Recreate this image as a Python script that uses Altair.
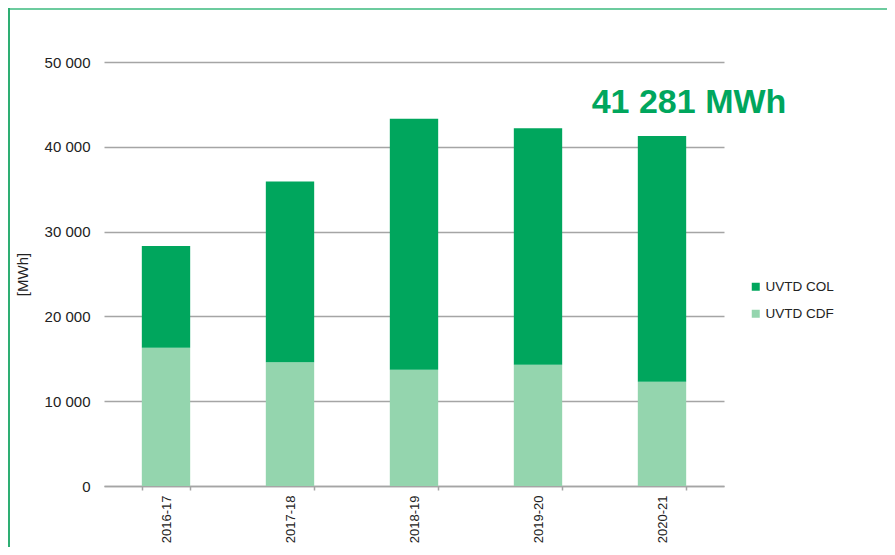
import altair as alt
import pandas as pd

years = ["2016-17", "2017-18", "2018-19", "2019-20", "2020-21"]
cdf = [16300, 14600, 13700, 14300, 12300]
col = [12000, 21300, 29600, 27900, 28981]
series = ["UVTD COL", "UVTD CDF"]
colors = ["#00A65D", "#94D5AE"]
y_ticks = [0, 10000, 20000, 30000, 40000, 50000]

rows = []
for yr, c, o in zip(years, cdf, col):
    rows.append({"year": yr, "series": "UVTD CDF", "value": c, "ord": 0})
    rows.append({"year": yr, "series": "UVTD COL", "value": o, "ord": 1})
df = pd.DataFrame(rows)

last_total = cdf[-1] + col[-1]
ann = pd.DataFrame([{"year": years[-1], "value": last_total,
                     "label": f"{last_total:,}".replace(",", " ") + " MWh"}])

FONT = "Liberation Sans"
W, H = 623, 424
PL, PT, PR, PB = 93, 54, 163, 61

xscale = alt.Scale(domain=years, range=[3, W], paddingInner=0.61, paddingOuter=0.305)
yscale = alt.Scale(domain=[0, 50000], nice=False)

bars = alt.Chart(df).mark_bar().encode(
    x=alt.X("year:N", scale=xscale, sort=years,
            axis=alt.Axis(title=None, labelAngle=-90, tickBand="extent",
                          domainColor="#A5A5A5", domainWidth=1.5,
                          tickColor="#A5A5A5", tickWidth=1.5, tickSize=4,
                          labelPadding=5, labelFontSize=13, labelColor="#222222",
                          labelFont=FONT, grid=False)),
    y=alt.Y("value:Q", stack="zero", scale=yscale,
            axis=alt.Axis(values=y_ticks,
                          labelExpr="replace(format(datum.value, ','), ',', ' ')",
                          title="[MWh]", domain=False, ticks=False, grid=True,
                          gridColor="#A5A5A5", gridWidth=1.5,
                          labelPadding=11, labelFontSize=15, labelColor="#222222",
                          labelFont=FONT, titleFont=FONT, titleFontSize=15,
                          titleFontWeight="normal", titleColor="#222222",
                          titleX=-79, titleY=212, titleAngle=270,
                          titleAlign="center", titleBaseline="middle")),
    color=alt.Color("series:N", scale=alt.Scale(domain=series, range=colors),
                    legend=alt.Legend(title=None, orient="none", legendX=648, legendY=218,
                                      symbolType="square", symbolSize=64,
                                      symbolStrokeWidth=0, labelFontSize=13.5,
                                      labelFont=FONT, labelColor="#222222",
                                      rowPadding=12, labelOffset=3)),
    order=alt.Order("ord:Q", sort="ascending"),
)

text = alt.Chart(ann).mark_text(
    font=FONT, fontSize=34, fontWeight="bold", color="#00A65D",
    align="center", baseline="alphabetic", dx=27, dy=-23
).encode(
    x=alt.X("year:N", scale=xscale, sort=years),
    y=alt.Y("value:Q", scale=yscale),
    text="label:N",
)

frame_df = pd.DataFrame([{"k": 0}])
top = alt.Chart(frame_df).mark_rule(color="#6CCB9E", strokeWidth=2).encode(
    x=alt.value(-PL), x2=alt.value(W + PR), y=alt.value(-PT + 1), y2=alt.value(-PT + 1))
left = alt.Chart(frame_df).mark_rule(color="#2EAE73", strokeWidth=2).encode(
    x=alt.value(-PL + 1), x2=alt.value(-PL + 1), y=alt.value(-PT), y2=alt.value(H + PB))

chart = alt.layer(bars, text, top, left).properties(
    width=W, height=H,
    padding={"left": PL, "top": PT, "right": PR, "bottom": PB},
    autosize=alt.AutoSizeParams(type="none"),
).configure_view(stroke=None)

chart.save("out.html", embed_options={"renderer": "svg", "actions": False})
